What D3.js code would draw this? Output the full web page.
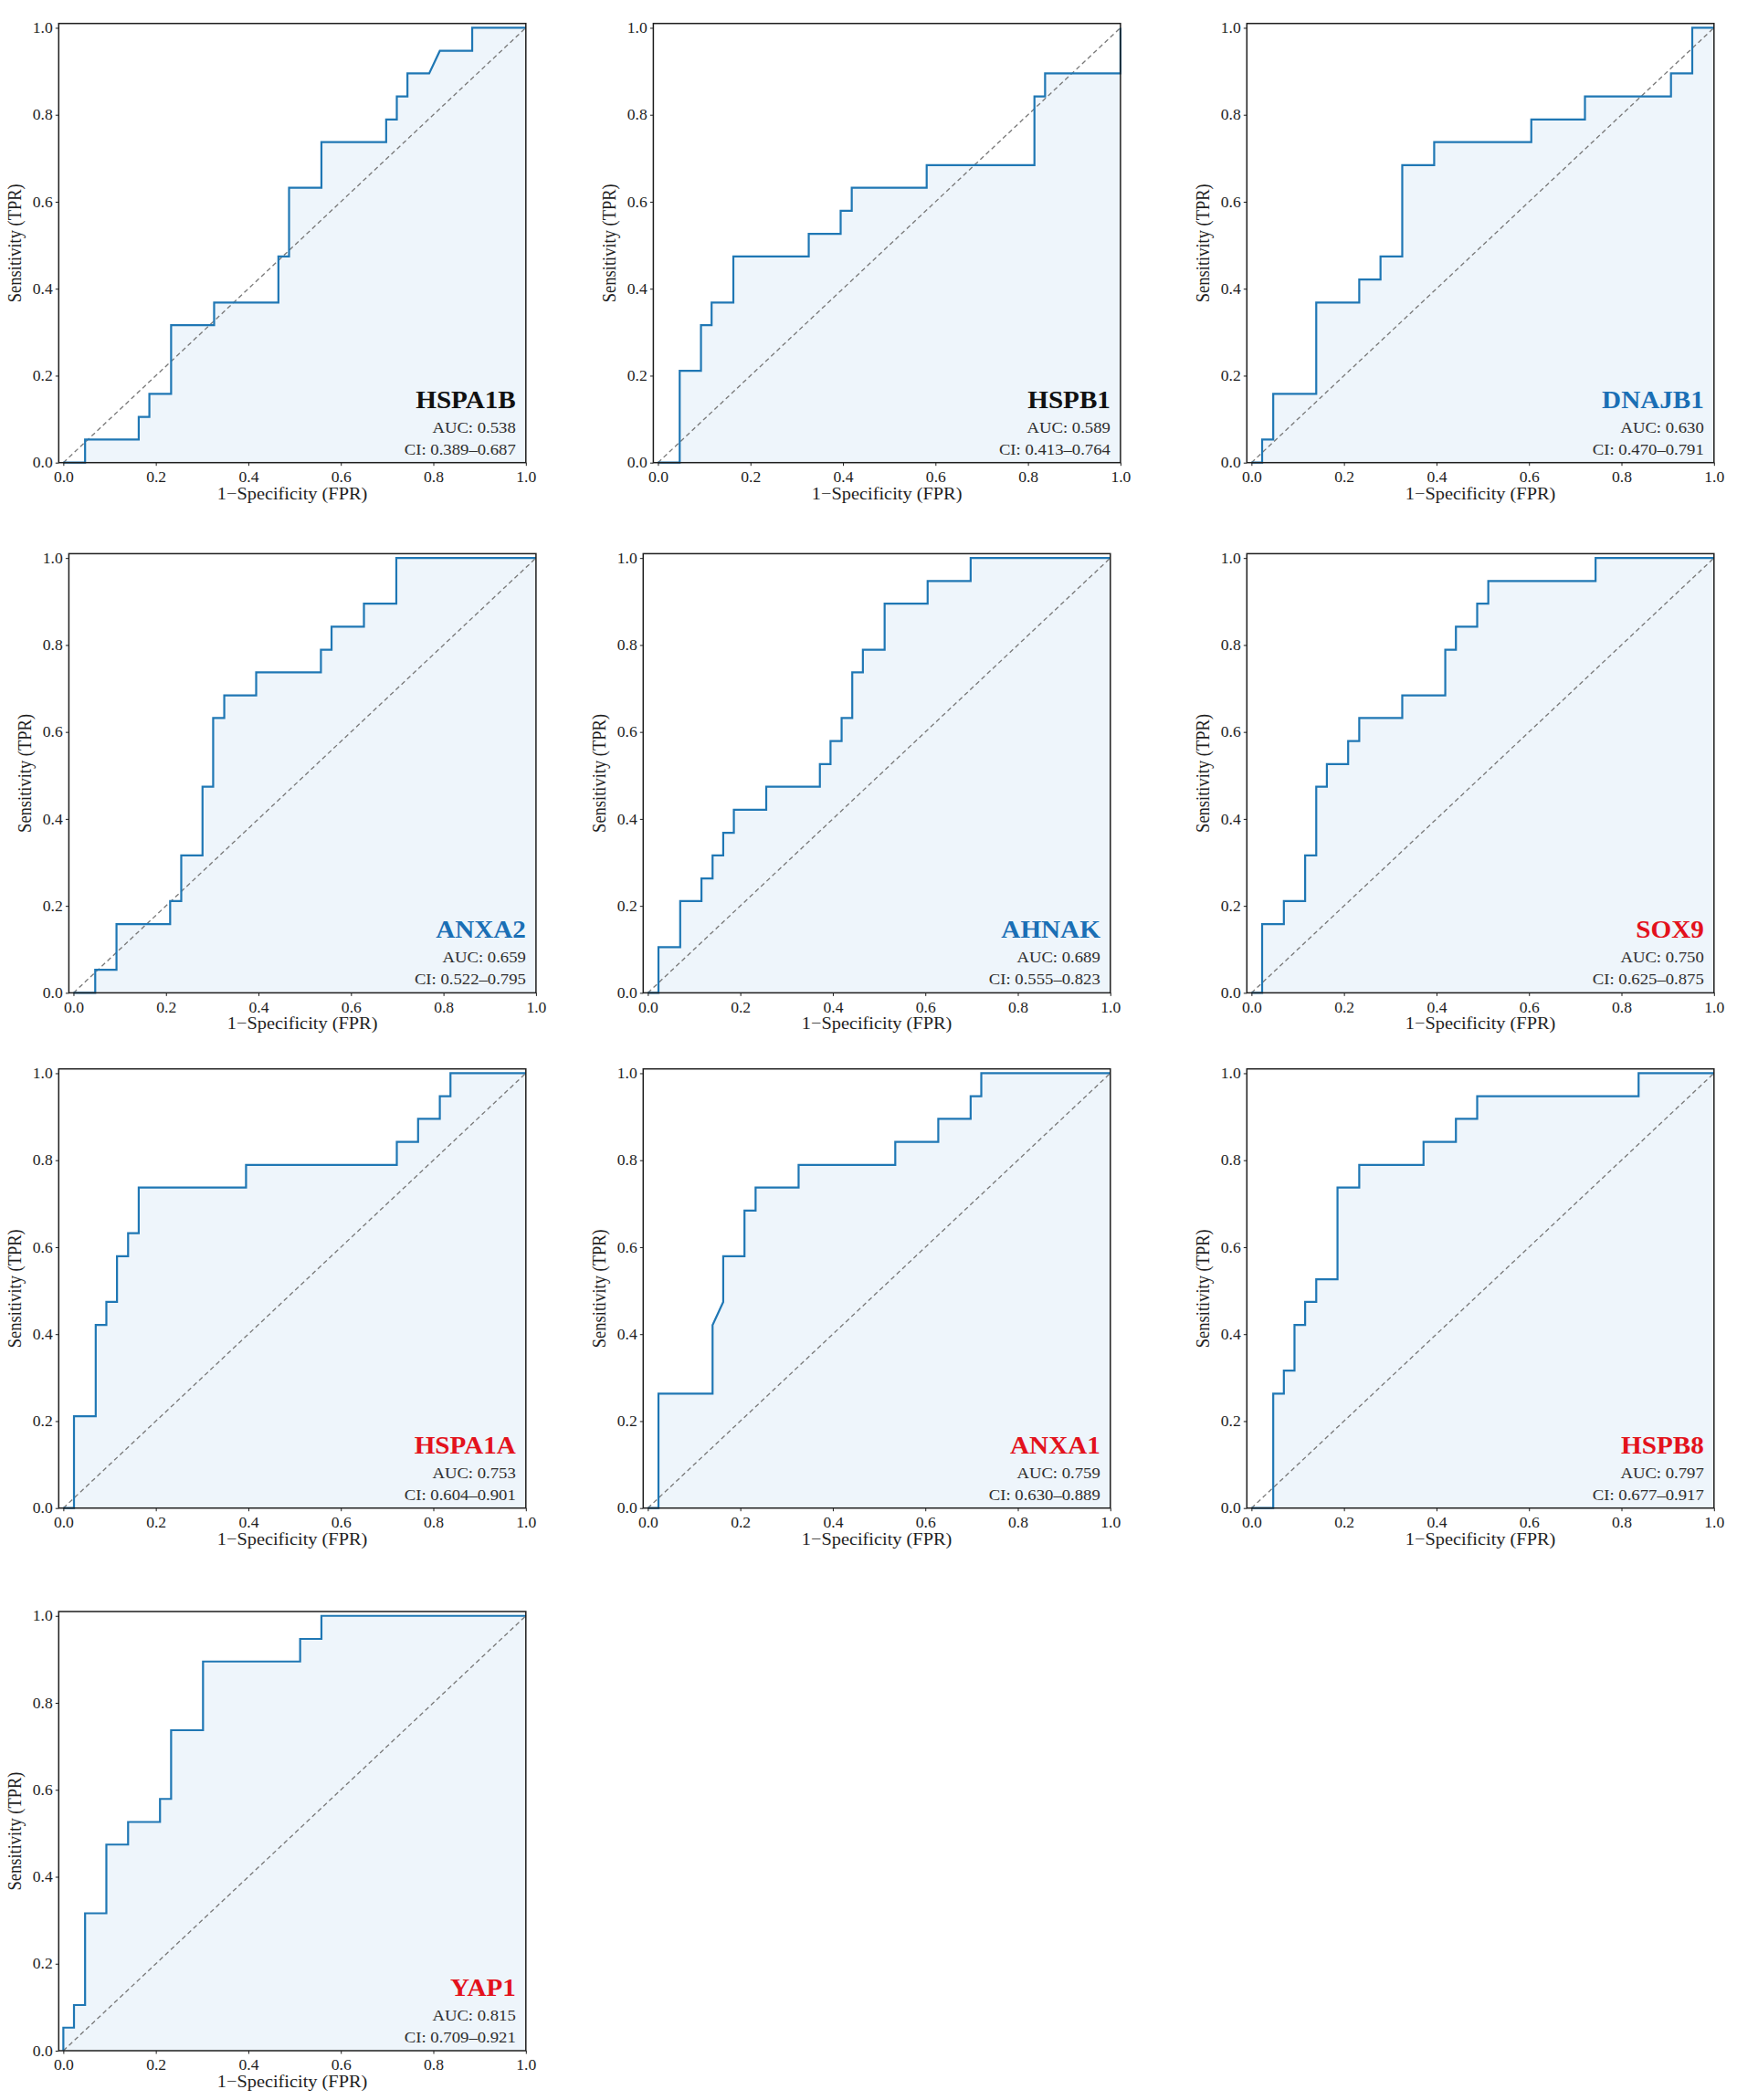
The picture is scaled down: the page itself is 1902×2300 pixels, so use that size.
<!DOCTYPE html>
<html>
<head>
<meta charset="utf-8">
<script src="https://cdn.jsdelivr.net/npm/d3@7/dist/d3.min.js"></script>
<style>
  html, body { margin: 0; padding: 0; background: #ffffff; }
  svg { display: block; }
  text { font-family: "Liberation Serif", "Times New Roman", serif; }
</style>
</head>
<body>
<svg id="chart" width="1902" height="2300"></svg>
<script>
// ---------------- DATA ----------------
const genes = ["HSPA1B", "HSPB1", "DNAJB1", "ANXA2", "AHNAK", "SOX9", "HSPA1A", "ANXA1", "HSPB8", "YAP1"];
const geneGroup = ["none", "none", "down", "down", "down", "up", "up", "up", "up", "up"];
const aucValues = ["0.538", "0.589", "0.630", "0.659", "0.689", "0.750", "0.753", "0.759", "0.797", "0.815"];
const ciLow  = ["0.389", "0.413", "0.470", "0.522", "0.555", "0.625", "0.604", "0.630", "0.677", "0.709"];
const ciHigh = ["0.687", "0.764", "0.791", "0.795", "0.823", "0.875", "0.901", "0.889", "0.917", "0.921"];
const tickValues = [0.0, 0.2, 0.4, 0.6, 0.8, 1.0];

const fprHSPA1B = [0,0.047,0.047,0.163,0.163,0.186,0.186,0.233,0.233,0.326,0.326,0.465,0.465,0.488,0.488,0.558,0.558,0.698,0.698,0.721,0.721,0.744,0.744,0.791,0.814,0.884,0.884,1.0];
const tprHSPA1B = [0,0,0.053,0.053,0.105,0.105,0.158,0.158,0.316,0.316,0.368,0.368,0.474,0.474,0.632,0.632,0.737,0.737,0.789,0.789,0.842,0.842,0.895,0.895,0.947,0.947,1.0,1.0];

const fprHSPB1 = [0,0.047,0.047,0.093,0.093,0.116,0.116,0.163,0.163,0.326,0.326,0.395,0.395,0.419,0.419,0.581,0.581,0.814,0.814,0.837,0.837,1.0,1.0];
const tprHSPB1 = [0,0,0.211,0.211,0.316,0.316,0.368,0.368,0.474,0.474,0.526,0.526,0.579,0.579,0.632,0.632,0.684,0.684,0.842,0.842,0.895,0.895,1.0];

const fprDNAJB1 = [0,0.023,0.023,0.047,0.047,0.140,0.140,0.233,0.233,0.279,0.279,0.326,0.326,0.395,0.395,0.605,0.605,0.721,0.721,0.907,0.907,0.953,0.953,1.0];
const tprDNAJB1 = [0,0,0.053,0.053,0.158,0.158,0.368,0.368,0.421,0.421,0.474,0.474,0.684,0.684,0.737,0.737,0.789,0.789,0.842,0.842,0.895,0.895,1.0,1.0];

const fprANXA2 = [0,0.047,0.047,0.093,0.093,0.209,0.209,0.233,0.233,0.279,0.279,0.302,0.302,0.326,0.326,0.395,0.395,0.535,0.535,0.558,0.558,0.628,0.628,0.698,0.698,1.0];
const tprANXA2 = [0,0,0.053,0.053,0.158,0.158,0.211,0.211,0.316,0.316,0.474,0.474,0.632,0.632,0.684,0.684,0.737,0.737,0.789,0.789,0.842,0.842,0.895,0.895,1.0,1.0];

const fprAHNAK = [0,0.023,0.023,0.070,0.070,0.116,0.116,0.140,0.140,0.163,0.163,0.186,0.186,0.256,0.256,0.372,0.372,0.395,0.395,0.419,0.419,0.442,0.442,0.465,0.465,0.512,0.512,0.605,0.605,0.698,0.698,1.0];
const tprAHNAK = [0,0,0.105,0.105,0.211,0.211,0.263,0.263,0.316,0.316,0.368,0.368,0.421,0.421,0.474,0.474,0.526,0.526,0.579,0.579,0.632,0.632,0.737,0.737,0.789,0.789,0.895,0.895,0.947,0.947,1.0,1.0];

const fprSOX9 = [0,0.023,0.023,0.070,0.070,0.116,0.116,0.140,0.140,0.163,0.163,0.209,0.209,0.233,0.233,0.326,0.326,0.419,0.419,0.442,0.442,0.488,0.488,0.512,0.512,0.744,0.744,1.0];
const tprSOX9 = [0,0,0.158,0.158,0.211,0.211,0.316,0.316,0.474,0.474,0.526,0.526,0.579,0.579,0.632,0.632,0.684,0.684,0.789,0.789,0.842,0.842,0.895,0.895,0.947,0.947,1.0,1.0];

const fprHSPA1A = [0,0.023,0.023,0.070,0.070,0.093,0.093,0.116,0.116,0.140,0.140,0.163,0.163,0.395,0.395,0.721,0.721,0.767,0.767,0.814,0.814,0.837,0.837,1.0];
const tprHSPA1A = [0,0,0.211,0.211,0.421,0.421,0.474,0.474,0.579,0.579,0.632,0.632,0.737,0.737,0.789,0.789,0.842,0.842,0.895,0.895,0.947,0.947,1.0,1.0];

const fprANXA1 = [0,0.023,0.023,0.140,0.140,0.163,0.163,0.209,0.209,0.233,0.233,0.326,0.326,0.535,0.535,0.628,0.628,0.698,0.698,0.721,0.721,1.0];
const tprANXA1 = [0,0,0.263,0.263,0.421,0.474,0.579,0.579,0.684,0.684,0.737,0.737,0.789,0.789,0.842,0.842,0.895,0.895,0.947,0.947,1.0,1.0];

const fprHSPB8 = [0,0.047,0.047,0.070,0.070,0.093,0.093,0.116,0.116,0.140,0.140,0.186,0.186,0.233,0.233,0.372,0.372,0.442,0.442,0.488,0.488,0.837,0.837,1.0];
const tprHSPB8 = [0,0,0.263,0.263,0.316,0.316,0.421,0.421,0.474,0.474,0.526,0.526,0.737,0.737,0.789,0.789,0.842,0.842,0.895,0.895,0.947,0.947,1.0,1.0];

const fprYAP1 = [0,0,0.023,0.023,0.047,0.047,0.093,0.093,0.140,0.140,0.209,0.209,0.233,0.233,0.302,0.302,0.512,0.512,0.558,0.558,1.0];
const tprYAP1 = [0,0.053,0.053,0.105,0.105,0.316,0.316,0.474,0.474,0.526,0.526,0.579,0.579,0.737,0.737,0.895,0.895,0.947,0.947,1.0,1.0];

const fprList = [fprHSPA1B, fprHSPB1, fprDNAJB1, fprANXA2, fprAHNAK, fprSOX9, fprHSPA1A, fprANXA1, fprHSPB8, fprYAP1];
const tprList = [tprHSPA1B, tprHSPB1, tprDNAJB1, tprANXA2, tprAHNAK, tprSOX9, tprHSPA1A, tprANXA1, tprHSPB8, tprYAP1];

// ---------------- LAYOUT / STYLE ----------------
const groupColor = { none: "#111111", down: "#1a6fb5", up: "#e3121c" };
const panelLeft = [64.3, 715.4, 1365.3, 75.4, 704.3, 1365.3, 64.3, 704.3, 1365.3, 64.3];
const rowTop = [25.7, 606.4, 1170.7, 1765.0];
const panelW = 511.5, panelH = 481;
const SX = 1.1; // horizontal glyph stretch of the reference image
const lineColor = "#1f77b4";
const fillColor = "#eef5fb";
const inkColor = "#1e1e1e";

const svg = d3.select("#chart");

genes.forEach((gene, i) => {
  const left = panelLeft[i];
  const top = rowTop[Math.floor(i / 3)];
  const g = svg.append("g").attr("transform", `translate(${left},${top})`);

  const x = d3.scaleLinear().domain([-0.01, 1.0]).range([0, panelW]);
  const y = d3.scaleLinear().domain([0, 1.01]).range([panelH, 0]);

  const pts = fprList[i].map((f, k) => ({ f: f, t: tprList[i][k] }));

  // fill under curve
  const area = d3.area().x(d => x(d.f)).y0(y(0)).y1(d => y(d.t));
  g.append("path").datum(pts).attr("d", area).attr("fill", fillColor);

  // diagonal reference
  g.append("line")
    .attr("x1", x(0)).attr("y1", y(0)).attr("x2", x(1)).attr("y2", y(1))
    .attr("stroke", "#7a7a7a").attr("stroke-width", 1.35)
    .attr("stroke-dasharray", "5,3.5");

  // ROC curve
  const line = d3.line().x(d => x(d.f)).y(d => y(d.t));
  g.append("path").datum(pts).attr("d", line)
    .attr("fill", "none").attr("stroke", lineColor).attr("stroke-width", 2.2)
    .attr("stroke-linejoin", "miter");

  // axes
  const fmt = d3.format(".1f");
  const xAxis = g.append("g").attr("transform", `translate(0,${panelH})`)
    .call(d3.axisBottom(x).tickValues(tickValues).tickFormat(fmt).tickSize(3.5).tickPadding(6.5));
  const yAxis = g.append("g")
    .call(d3.axisLeft(y).tickValues(tickValues).tickFormat(fmt).tickSize(3.5).tickPadding(2.5));
  [xAxis, yAxis].forEach(ax => {
    ax.select(".domain").remove();
    ax.selectAll(".tick line").attr("stroke", inkColor).attr("stroke-width", 1);
    ax.selectAll(".tick text")
      .attr("fill", inkColor)
      .style("font-family", '"Liberation Serif", "Times New Roman", serif')
      .style("font-size", "16px")
      .attr("transform", `scale(${SX},1)`);
  });

  // frame
  g.append("rect").attr("x", 0).attr("y", 0).attr("width", panelW).attr("height", panelH)
    .attr("fill", "none").attr("stroke", inkColor).attr("stroke-width", 1.5);

  // axis titles
  g.append("text")
    .attr("transform", `translate(${panelW / 2},${panelH + 40}) scale(${SX},1)`)
    .attr("text-anchor", "middle").attr("fill", inkColor)
    .style("font-size", "18.5px")
    .text("1\u2212Specificity (FPR)");
  g.append("text")
    .attr("transform", `translate(-41,${panelH / 2}) scale(${SX},1) rotate(-90)`)
    .attr("text-anchor", "middle").attr("fill", inkColor)
    .style("font-size", "18.5px")
    .text("Sensitivity (TPR)");

  // annotations
  const rx = panelW - 11;
  g.append("text")
    .attr("transform", `translate(${rx},${panelH - 60}) scale(${SX},1)`)
    .attr("text-anchor", "end").attr("fill", groupColor[geneGroup[i]])
    .style("font-size", "26.5px").style("font-weight", "bold")
    .text(gene);
  g.append("text")
    .attr("transform", `translate(${rx},${panelH - 33}) scale(${SX},1)`)
    .attr("text-anchor", "end").attr("fill", "#2e2e2e")
    .style("font-size", "17px")
    .text(`AUC: ${aucValues[i]}`);
  g.append("text")
    .attr("transform", `translate(${rx},${panelH - 9}) scale(${SX},1)`)
    .attr("text-anchor", "end").attr("fill", "#2e2e2e")
    .style("font-size", "17px")
    .text(`CI: ${ciLow[i]}\u2013${ciHigh[i]}`);
});
</script>
</body>
</html>
